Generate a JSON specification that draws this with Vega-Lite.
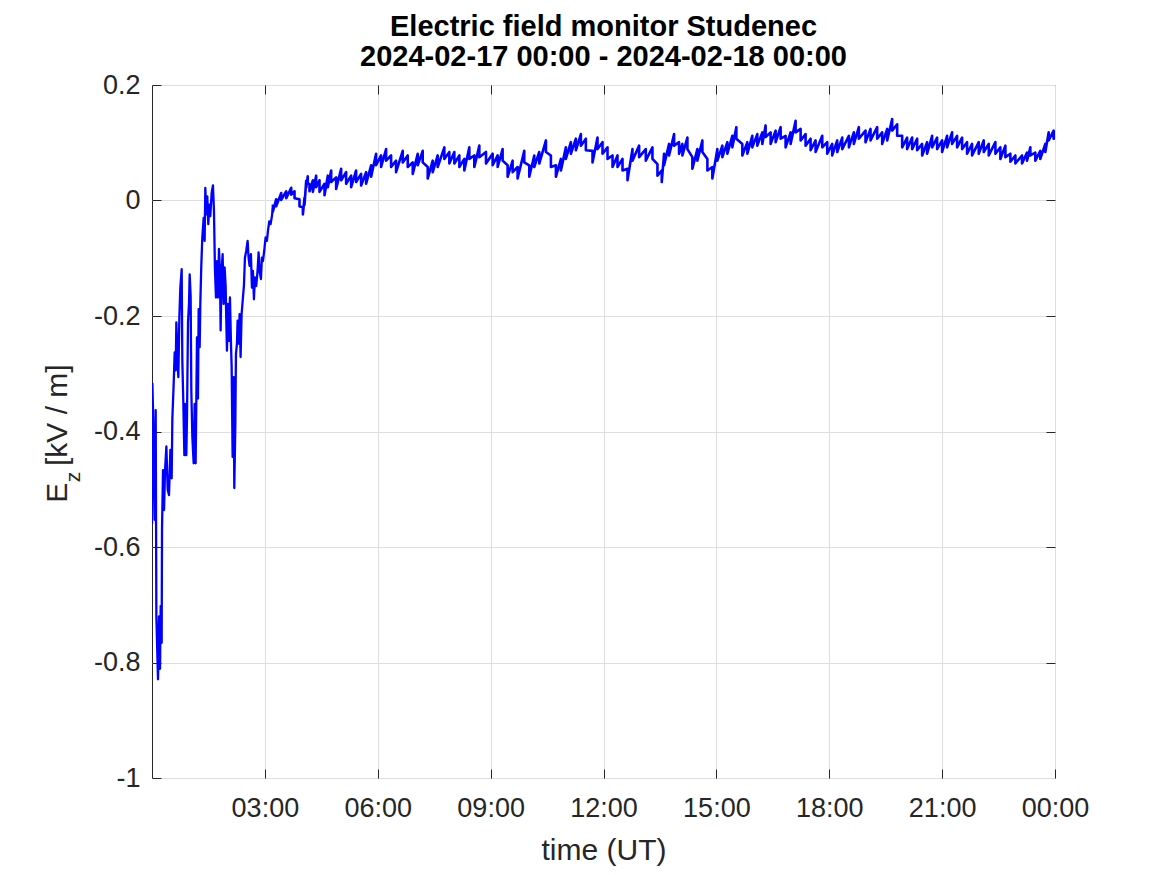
{
  "$schema": "https://vega.github.io/schema/vega-lite/v6.json",
  "autosize": {"type": "none"},
  "padding": {"left": 152, "top": 85, "right": 112, "bottom": 97},
  "width": 903,
  "height": 693,
  "background": "white",
  "title": {
    "text": ["Electric field monitor Studenec", "2024-02-17 00:00 - 2024-02-18 00:00"],
    "font": "Liberation Sans",
    "fontSize": 29,
    "fontWeight": "bold",
    "color": "#000000",
    "lineHeight": 30,
    "anchor": "middle",
    "baseline": "bottom",
    "offset": -30
  },
  "config": {
    "view": {"stroke": "#262626", "strokeWidth": 1},
    "axis": {
      "labelFont": "Liberation Sans",
      "labelFontSize": 27,
      "labelColor": "#262626",
      "titleFont": "Liberation Sans",
      "titleFontSize": 30,
      "titleFontWeight": "normal",
      "titleColor": "#262626",
      "domain": false,
      "tickColor": "#262626",
      "tickSize": -9,
      "tickWidth": 1,
      "gridColor": "#dedede",
      "gridWidth": 1,
      "labelOverlap": false,
      "labelFlush": false
    }
  },
  "datasets": {
    "early": [
      {"t":0.0,"v":-0.56},{"t":0.01,"v":-0.317},{"t":0.027,"v":-0.363},{"t":0.072,"v":-0.553},{"t":0.098,"v":-0.363},{"t":0.116,"v":-0.72},{"t":0.16,"v":-0.829},{"t":0.187,"v":-0.72},{"t":0.213,"v":-0.811},{"t":0.231,"v":-0.702},{"t":0.257,"v":-0.766},{"t":0.266,"v":-0.57},{"t":0.293,"v":-0.467},{"t":0.32,"v":-0.536},{"t":0.346,"v":-0.467},{"t":0.382,"v":-0.426},{"t":0.417,"v":-0.501},{"t":0.452,"v":-0.51},{"t":0.488,"v":-0.432},{"t":0.523,"v":-0.481},{"t":0.541,"v":-0.378},{"t":0.576,"v":-0.317},{"t":0.603,"v":-0.263},{"t":0.63,"v":-0.294},{"t":0.647,"v":-0.211},{"t":0.674,"v":-0.271},{"t":0.7,"v":-0.306},{"t":0.727,"v":-0.202},{"t":0.753,"v":-0.151},{"t":0.789,"v":-0.119},{"t":0.806,"v":-0.277},{"t":0.833,"v":-0.352},{"t":0.86,"v":-0.441},{"t":0.886,"v":-0.352},{"t":0.912,"v":-0.441},{"t":0.93,"v":-0.375},{"t":0.957,"v":-0.211},{"t":0.983,"v":-0.179},{"t":1.001,"v":-0.128},{"t":1.027,"v":-0.165},{"t":1.045,"v":-0.329},{"t":1.072,"v":-0.409},{"t":1.107,"v":-0.455},{"t":1.134,"v":-0.352},{"t":1.16,"v":-0.455},{"t":1.178,"v":-0.346},{"t":1.196,"v":-0.237},{"t":1.222,"v":-0.343},{"t":1.24,"v":-0.188},{"t":1.267,"v":-0.254},{"t":1.284,"v":-0.179},{"t":1.31,"v":-0.113},{"t":1.337,"v":-0.064},{"t":1.373,"v":-0.03},{"t":1.399,"v":-0.07},{"t":1.417,"v":0.022},{"t":1.444,"v":-0.024},{"t":1.47,"v":0.007},{"t":1.496,"v":-0.041},{"t":1.523,"v":-0.007},{"t":1.55,"v":-0.027},{"t":1.585,"v":0.013},{"t":1.62,"v":0.026},{"t":1.647,"v":-0.018},{"t":1.673,"v":-0.119},{"t":1.7,"v":-0.168},{"t":1.727,"v":-0.105},{"t":1.753,"v":-0.168},{"t":1.78,"v":-0.084},{"t":1.806,"v":-0.122},{"t":1.824,"v":-0.225},{"t":1.85,"v":-0.122},{"t":1.877,"v":-0.093},{"t":1.904,"v":-0.179},{"t":1.93,"v":-0.116},{"t":1.957,"v":-0.148},{"t":1.975,"v":-0.208},{"t":1.992,"v":-0.26},{"t":2.019,"v":-0.179},{"t":2.045,"v":-0.243},{"t":2.072,"v":-0.168},{"t":2.099,"v":-0.248},{"t":2.117,"v":-0.289},{"t":2.143,"v":-0.444},{"t":2.17,"v":-0.306},{"t":2.187,"v":-0.498},{"t":2.214,"v":-0.392},{"t":2.231,"v":-0.266},{"t":2.258,"v":-0.248},{"t":2.275,"v":-0.208},{"t":2.302,"v":-0.248},{"t":2.328,"v":-0.197},{"t":2.355,"v":-0.271},{"t":2.381,"v":-0.197},{"t":2.417,"v":-0.168},{"t":2.443,"v":-0.148},{"t":2.47,"v":-0.099},{"t":2.505,"v":-0.087},{"t":2.541,"v":-0.07},{"t":2.567,"v":-0.099},{"t":2.594,"v":-0.113},{"t":2.629,"v":-0.093},{"t":2.656,"v":-0.151},{"t":2.682,"v":-0.122},{"t":2.709,"v":-0.171},{"t":2.735,"v":-0.133},{"t":2.771,"v":-0.148},{"t":2.806,"v":-0.122},{"t":2.833,"v":-0.09},{"t":2.859,"v":-0.122},{"t":2.895,"v":-0.136},{"t":2.921,"v":-0.099},{"t":2.948,"v":-0.105},{"t":2.983,"v":-0.087},{"t":3.019,"v":-0.064},{"t":3.054,"v":-0.07},{"t":3.081,"v":-0.053},{"t":3.116,"v":-0.036},{"t":3.152,"v":-0.041},{"t":3.187,"v":-0.027},{"t":3.213,"v":-0.013}
    ],
    "band": [
      {"t":3.213,"hi":-0.007,"lo":-0.019},{"t":3.3,"hi":0.002,"lo":-0.01},{"t":3.435,"hi":0.013,"lo":0.001},{"t":3.568,"hi":0.016,"lo":0.004},{"t":3.7,"hi":0.022,"lo":0.01},{"t":3.788,"hi":0.016,"lo":0.004},{"t":3.92,"hi":0.002,"lo":-0.01},{"t":4.01,"hi":-0.012,"lo":-0.024},{"t":4.054,"hi":0.005,"lo":-0.007},{"t":4.098,"hi":0.034,"lo":0.022},{"t":4.14,"hi":0.042,"lo":0.03},{"t":4.186,"hi":0.028,"lo":0.016},
      {"t":4.275,"hi":0.035,"lo":0.015},{"t":4.363,"hi":0.043,"lo":0.023},{"t":4.452,"hi":0.035,"lo":0.015},{"t":4.585,"hi":0.029,"lo":0.009},{"t":4.673,"hi":0.043,"lo":0.023},{"t":4.762,"hi":0.052,"lo":0.032},{"t":4.894,"hi":0.04,"lo":0.02},{"t":5.027,"hi":0.055,"lo":0.035},{"t":5.16,"hi":0.049,"lo":0.029},{"t":5.293,"hi":0.043,"lo":0.023},{"t":5.425,"hi":0.052,"lo":0.032},{"t":5.558,"hi":0.046,"lo":0.026},{"t":5.691,"hi":0.049,"lo":0.029},{"t":5.824,"hi":0.061,"lo":0.041},{"t":5.956,"hi":0.081,"lo":0.061},{"t":6.089,"hi":0.078,"lo":0.058},{"t":6.222,"hi":0.089,"lo":0.069},{"t":6.355,"hi":0.078,"lo":0.058},{"t":6.487,"hi":0.069,"lo":0.049},{"t":6.664,"hi":0.086,"lo":0.066},{"t":6.797,"hi":0.078,"lo":0.058},{"t":6.93,"hi":0.066,"lo":0.046},{"t":7.062,"hi":0.081,"lo":0.061},{"t":7.195,"hi":0.086,"lo":0.066},{"t":7.328,"hi":0.058,"lo":0.038},{"t":7.461,"hi":0.069,"lo":0.049},{"t":7.593,"hi":0.078,"lo":0.058},{"t":7.77,"hi":0.092,"lo":0.072},{"t":7.903,"hi":0.084,"lo":0.064},{"t":8.036,"hi":0.084,"lo":0.064},{"t":8.169,"hi":0.078,"lo":0.058},{"t":8.301,"hi":0.072,"lo":0.052},{"t":8.434,"hi":0.092,"lo":0.072},{"t":8.567,"hi":0.078,"lo":0.058},{"t":8.7,"hi":0.095,"lo":0.075},{"t":8.877,"hi":0.084,"lo":0.064},{"t":9.054,"hi":0.081,"lo":0.061},{"t":9.187,"hi":0.078,"lo":0.058},{"t":9.319,"hi":0.089,"lo":0.069},{"t":9.452,"hi":0.061,"lo":0.041},{"t":9.585,"hi":0.069,"lo":0.049},{"t":9.717,"hi":0.058,"lo":0.038},{"t":9.894,"hi":0.086,"lo":0.066},{"t":10.027,"hi":0.061,"lo":0.041},{"t":10.16,"hi":0.078,"lo":0.058},{"t":10.293,"hi":0.084,"lo":0.064},{"t":10.47,"hi":0.104,"lo":0.084},{"t":10.602,"hi":0.078,"lo":0.058},{"t":10.735,"hi":0.061,"lo":0.041},{"t":10.868,"hi":0.072,"lo":0.052},{"t":11.0,"hi":0.092,"lo":0.072},{"t":11.133,"hi":0.101,"lo":0.081},{"t":11.266,"hi":0.107,"lo":0.087},{"t":11.399,"hi":0.115,"lo":0.095},{"t":11.531,"hi":0.107,"lo":0.087},{"t":11.708,"hi":0.086,"lo":0.066},{"t":11.841,"hi":0.109,"lo":0.089},{"t":11.974,"hi":0.101,"lo":0.081},{"t":12.107,"hi":0.092,"lo":0.072},{"t":12.24,"hi":0.078,"lo":0.058},{"t":12.372,"hi":0.078,"lo":0.058},{"t":12.505,"hi":0.072,"lo":0.052},{"t":12.638,"hi":0.055,"lo":0.035},{"t":12.77,"hi":0.089,"lo":0.069},{"t":12.947,"hi":0.095,"lo":0.075},{"t":13.124,"hi":0.089,"lo":0.069},{"t":13.301,"hi":0.092,"lo":0.072},{"t":13.434,"hi":0.063,"lo":0.043},{"t":13.548,"hi":0.052,"lo":0.032},{"t":13.61,"hi":0.081,"lo":0.061},{"t":13.743,"hi":0.098,"lo":0.078},{"t":13.876,"hi":0.115,"lo":0.095},{"t":14.008,"hi":0.101,"lo":0.081},{"t":14.097,"hi":0.098,"lo":0.078},{"t":14.23,"hi":0.109,"lo":0.089},{"t":14.362,"hi":0.075,"lo":0.055},{"t":14.495,"hi":0.089,"lo":0.069},{"t":14.628,"hi":0.104,"lo":0.084},{"t":14.761,"hi":0.072,"lo":0.052},{"t":14.893,"hi":0.058,"lo":0.038},{"t":15.026,"hi":0.089,"lo":0.069},{"t":15.159,"hi":0.095,"lo":0.075},{"t":15.292,"hi":0.101,"lo":0.081},{"t":15.424,"hi":0.112,"lo":0.092},{"t":15.531,"hi":0.127,"lo":0.107},{"t":15.69,"hi":0.098,"lo":0.078},{"t":15.823,"hi":0.101,"lo":0.081},{"t":15.955,"hi":0.112,"lo":0.092},{"t":16.088,"hi":0.115,"lo":0.095},{"t":16.221,"hi":0.118,"lo":0.098},{"t":16.309,"hi":0.13,"lo":0.11},{"t":16.442,"hi":0.118,"lo":0.098},{"t":16.575,"hi":0.121,"lo":0.101},{"t":16.708,"hi":0.127,"lo":0.107},{"t":16.84,"hi":0.112,"lo":0.092},{"t":16.973,"hi":0.118,"lo":0.098},{"t":17.106,"hi":0.138,"lo":0.118},{"t":17.239,"hi":0.124,"lo":0.104},{"t":17.371,"hi":0.115,"lo":0.095},{"t":17.504,"hi":0.107,"lo":0.087},{"t":17.637,"hi":0.104,"lo":0.084},{"t":17.814,"hi":0.112,"lo":0.092},{"t":17.947,"hi":0.101,"lo":0.081},{"t":18.079,"hi":0.098,"lo":0.078},{"t":18.212,"hi":0.104,"lo":0.084},{"t":18.345,"hi":0.109,"lo":0.089},{"t":18.522,"hi":0.112,"lo":0.092},{"t":18.654,"hi":0.118,"lo":0.098},{"t":18.787,"hi":0.127,"lo":0.107},{"t":18.964,"hi":0.121,"lo":0.101},{"t":19.097,"hi":0.124,"lo":0.104},{"t":19.274,"hi":0.127,"lo":0.107},{"t":19.407,"hi":0.118,"lo":0.098},{"t":19.54,"hi":0.124,"lo":0.104},{"t":19.672,"hi":0.141,"lo":0.121},{"t":19.805,"hi":0.132,"lo":0.112},{"t":19.938,"hi":0.112,"lo":0.092},{"t":20.07,"hi":0.109,"lo":0.089},{"t":20.203,"hi":0.109,"lo":0.089},{"t":20.336,"hi":0.107,"lo":0.087},{"t":20.469,"hi":0.098,"lo":0.078},{"t":20.601,"hi":0.101,"lo":0.081},{"t":20.734,"hi":0.112,"lo":0.092},{"t":20.867,"hi":0.109,"lo":0.089},{"t":21.0,"hi":0.104,"lo":0.084},{"t":21.132,"hi":0.112,"lo":0.092},{"t":21.265,"hi":0.118,"lo":0.098},{"t":21.398,"hi":0.112,"lo":0.092},{"t":21.531,"hi":0.109,"lo":0.089},{"t":21.663,"hi":0.101,"lo":0.081},{"t":21.796,"hi":0.098,"lo":0.078},{"t":21.973,"hi":0.101,"lo":0.081},{"t":22.106,"hi":0.104,"lo":0.084},{"t":22.239,"hi":0.098,"lo":0.078},{"t":22.416,"hi":0.101,"lo":0.081},{"t":22.548,"hi":0.092,"lo":0.072},{"t":22.681,"hi":0.095,"lo":0.075},{"t":22.814,"hi":0.081,"lo":0.067},{"t":22.947,"hi":0.078,"lo":0.064},{"t":23.124,"hi":0.078,"lo":0.064},{"t":23.256,"hi":0.083,"lo":0.069},{"t":23.345,"hi":0.092,"lo":0.078},{"t":23.477,"hi":0.083,"lo":0.069},{"t":23.61,"hi":0.086,"lo":0.072},{"t":23.743,"hi":0.098,"lo":0.084},{"t":23.832,"hi":0.118,"lo":0.104},{"t":23.964,"hi":0.121,"lo":0.107},{"t":24.0,"hi":0.119,"lo":0.105}
    ]
  },
  "layer": [
    {
      "data": {"name": "early"},
      "mark": {"type": "line", "color": "#0000ff", "strokeWidth": 2.3, "strokeJoin": "round", "clip": true},
      "encoding": {
        "x": {
          "field": "t", "type": "quantitative",
          "scale": {"domain": [0, 24], "nice": false, "zero": false},
          "axis": {
            "orient": "bottom",
            "values": [3, 6, 9, 12, 15, 18, 21, 24],
            "labelExpr": "(datum.value % 24 < 10 ? '0' : '') + (datum.value % 24) + ':00'",
            "labelPadding": 39,
            "labelBaseline": "middle",
            "grid": true,
            "title": "time (UT)",
            "titleX": 451.5,
            "titleY": 72,
            "titleBaseline": "middle",
            "titleAlign": "center"
          }
        },
        "y": {
          "field": "v", "type": "quantitative",
          "scale": {"domain": [-1, 0.2], "nice": false, "zero": false},
          "axis": {
            "orient": "left",
            "values": [-1, -0.8, -0.6, -0.4, -0.2, 0, 0.2],
            "labelExpr": "'' + datum.value",
            "labelPadding": 21,
            "grid": true,
            "title": "E\u00a0\u00a0[kV / m]",
            "titleFontSize": 30,
            "titleAngle": -90,
            "titleX": -95,
            "titleY": 348,
            "titleAlign": "center",
            "titleBaseline": "middle"
          }
        },
        "order": {"field": "t"}
      }
    },
    {
      "data": {"name": "band"},
      "transform": [{"fold": ["hi", "lo"], "as": ["key", "value"]}],
      "mark": {"type": "line", "color": "#0000ff", "strokeWidth": 2.6, "strokeJoin": "round", "clip": true},
      "encoding": {
        "x": {
          "field": "t", "type": "quantitative",
          "axis": {"orient": "top", "values": [3, 6, 9, 12, 15, 18, 21], "labels": false, "grid": false, "title": null}
        },
        "y": {
          "field": "value", "type": "quantitative",
          "axis": {
            "orient": "right", "values": [-0.8, -0.6, -0.4, -0.2, 0], "labels": false, "grid": false,
            "title": "z",
            "titleFontSize": 21,
            "titleAngle": -90,
            "titleX": -981.5,
            "titleY": 391.5,
            "titleAlign": "center",
            "titleBaseline": "middle"
          }
        },
        "order": [{"field": "t"}, {"field": "key"}]
      }
    }
  ],
  "resolve": {"axis": {"x": "independent", "y": "independent"}}
}
